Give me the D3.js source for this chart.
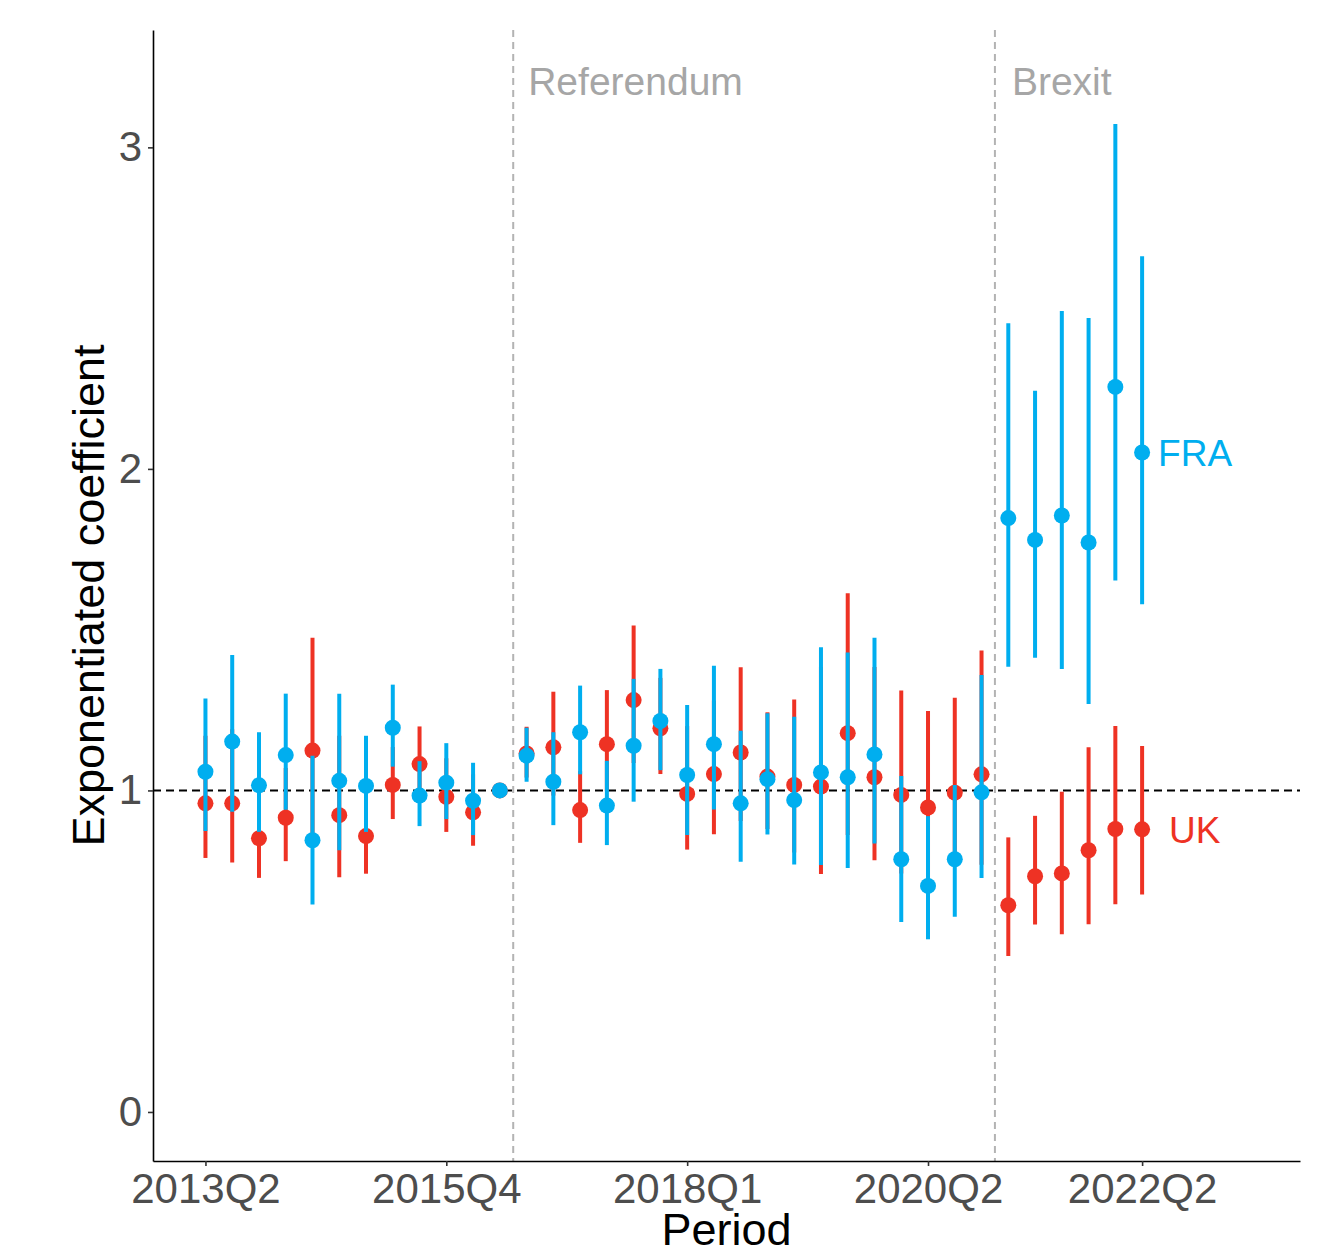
<!DOCTYPE html>
<html>
<head>
<meta charset="utf-8">
<script src="https://cdn.jsdelivr.net/npm/d3@7"></script>
<style>
  html, body { margin: 0; padding: 0; background: #fff; }
  svg { display: block; font-family: "Liberation Sans", Arial, sans-serif; }
</style>
</head>
<body>
<svg id="chart" width="1322" height="1251"></svg>
<script>
// ---------- data ----------
const periods = [
  "2013Q3","2013Q4","2014Q1","2014Q2","2014Q3","2014Q4","2015Q1","2015Q2","2015Q3","2015Q4",
  "2016Q1","2016Q2","2016Q3","2016Q4","2017Q1","2017Q2","2017Q3","2017Q4","2018Q1","2018Q2",
  "2018Q3","2018Q4","2019Q1","2019Q2","2019Q3","2019Q4","2020Q1","2020Q2","2020Q3","2020Q4",
  "2021Q1","2021Q2","2021Q3","2021Q4","2022Q1","2022Q2"
];
const tickPeriods = ["2013Q3","2015Q4","2018Q1","2020Q2","2022Q2"];
const tickLabels  = ["2013Q2","2015Q4","2018Q1","2020Q2","2022Q2"];
const yTicks = [0, 1, 2, 3];

const ukEst  = [0.960,0.960,0.851,0.915,1.124,0.923,0.858,1.017,1.082,0.980,0.932,1.000,1.115,1.134,0.939,1.144,1.281,1.193,0.989,1.051,1.118,1.043,1.017,1.012,1.178,1.041,0.986,0.947,0.993,1.050,0.643,0.733,0.742,0.814,0.880,0.879];
const ukLow  = [0.790,0.776,0.728,0.780,0.860,0.730,0.741,0.911,0.977,0.871,0.828,null,1.040,0.984,0.837,0.998,1.085,1.051,0.816,0.864,0.905,0.880,0.807,0.740,0.861,0.783,0.742,0.720,0.766,0.769,0.485,0.583,0.553,0.584,0.646,0.676];
const ukHigh = [1.170,1.190,0.995,1.070,1.475,1.170,0.994,1.135,1.199,1.100,1.050,null,1.198,1.307,1.060,1.312,1.513,1.350,1.200,1.280,1.383,1.243,1.283,1.384,1.613,1.384,1.311,1.247,1.288,1.435,0.854,0.921,0.996,1.134,1.200,1.138];

const frEst  = [1.058,1.152,1.016,1.110,0.845,1.030,1.014,1.195,0.984,1.024,0.968,1.000,1.108,1.027,1.181,0.953,1.139,1.216,1.048,1.144,0.960,1.035,0.970,1.056,1.041,1.112,0.786,0.703,0.786,0.994,1.847,1.779,1.855,1.771,2.255,2.051];
const frLow  = [0.874,0.934,0.871,0.940,0.645,0.814,0.871,1.074,0.889,0.911,0.861,null,1.027,0.892,1.050,0.830,0.965,1.063,0.861,0.941,0.778,0.863,0.770,0.768,0.759,0.835,0.591,0.537,0.607,0.728,1.385,1.413,1.378,1.269,1.653,1.579];
const frHigh = [1.286,1.421,1.181,1.301,1.108,1.301,1.170,1.329,1.091,1.147,1.086,null,1.195,1.181,1.326,1.092,1.347,1.378,1.266,1.388,1.186,1.240,1.229,1.445,1.429,1.475,1.045,0.920,1.017,1.359,2.453,2.243,2.491,2.469,3.073,2.661];

const seriesNames  = ["UK", "FRA"];
const seriesColors = ["#EE3224", "#00AEEF"];
const eventLabels  = ["Referendum", "Brexit"];
const eventAfter   = ["2016Q2", "2020Q4"];
const refValue = 1;

// ---------- layout ----------
const svg = d3.select("#chart");
const plotLeft = 153, plotRight = 1300, plotTop = 30, plotBottom = 1161;

const x = d3.scaleLinear().domain([-1.96, 40.9]).range([plotLeft, plotRight]);
const y = d3.scaleLinear().domain([-0.1525, 3.365]).range([plotBottom, plotTop]);
const xi = p => periods.indexOf(p);

// event vertical lines
eventAfter.forEach((p, k) => {
  const xv = x(xi(p) + 0.5);
  svg.append("line")
    .attr("x1", xv).attr("x2", xv).attr("y1", plotTop).attr("y2", plotBottom)
    .attr("stroke", "#b3b3b3").attr("stroke-width", 2).attr("stroke-dasharray", "7,5");
  svg.append("text")
    .attr("x", xv + 15 + (k === 1 ? 2 : 0)).attr("y", 95)
    .attr("font-size", 39).attr("fill", "#a6a6a6")
    .text(eventLabels[k]);
});

// reference horizontal line
svg.append("line")
  .attr("x1", plotLeft).attr("x2", plotRight).attr("y1", y(refValue)).attr("y2", y(refValue))
  .attr("stroke", "#000").attr("stroke-width", 2).attr("stroke-dasharray", "8,5");

// series
const series = [
  {name: seriesNames[0], color: seriesColors[0], est: ukEst, lo: ukLow, hi: ukHigh, dx: 27},
  {name: seriesNames[1], color: seriesColors[1], est: frEst, lo: frLow, hi: frHigh, dx: 16}
];

series.forEach(s => {
  const g = svg.append("g");
  const rows = periods.map((p, i) => ({i, est: s.est[i], lo: s.lo[i], hi: s.hi[i]}));
  g.selectAll("line.ci").data(rows.filter(d => d.lo != null))
    .join("line").attr("class", "ci")
    .attr("x1", d => x(d.i)).attr("x2", d => x(d.i))
    .attr("y1", d => y(d.lo)).attr("y2", d => y(d.hi))
    .attr("stroke", s.color).attr("stroke-width", 4);
  g.selectAll("circle").data(rows)
    .join("circle")
    .attr("cx", d => x(d.i)).attr("cy", d => y(d.est)).attr("r", 8)
    .attr("fill", s.color);
  const last = rows[rows.length - 1];
  g.append("text")
    .attr("x", x(last.i) + s.dx).attr("y", y(last.est))
    .attr("dy", "0.36em")
    .attr("font-size", 37).attr("fill", s.color)
    .text(s.name);
});

// axes
const xAxis = d3.axisBottom(x)
  .tickValues(tickPeriods.map(xi))
  .tickFormat((d, k) => tickLabels[k])
  .tickSize(5).tickSizeOuter(0).tickPadding(7);
const gx = svg.append("g").attr("transform", `translate(0,${plotBottom})`).call(xAxis);
gx.select(".domain").attr("stroke", "#000").attr("stroke-width", 1.6);
gx.selectAll(".tick line").attr("stroke", "#333").attr("stroke-width", 1.6);
gx.selectAll(".tick text").attr("font-size", 42).attr("fill", "#4d4d4d")
  .attr("font-family", "Liberation Sans, Arial, sans-serif");

const yAxis = d3.axisLeft(y).tickValues(yTicks).tickFormat(d3.format("d"))
  .tickSize(5).tickSizeOuter(0).tickPadding(6);
const gy = svg.append("g").attr("transform", `translate(${plotLeft},0)`).call(yAxis);
gy.select(".domain").attr("stroke", "#000").attr("stroke-width", 1.6);
gy.selectAll(".tick line").attr("stroke", "#333").attr("stroke-width", 1.6);
gy.selectAll(".tick text").attr("font-size", 42).attr("fill", "#4d4d4d")
  .attr("font-family", "Liberation Sans, Arial, sans-serif");

// axis titles
svg.append("text")
  .attr("x", (plotLeft + plotRight) / 2).attr("y", 1245)
  .attr("text-anchor", "middle").attr("font-size", 45).attr("fill", "#000")
  .text("Period");
svg.append("text")
  .attr("transform", `translate(104,${(plotTop + plotBottom) / 2}) rotate(-90)`)
  .attr("text-anchor", "middle").attr("font-size", 45).attr("fill", "#000")
  .text("Exponentiated coefficient");
</script>
</body>
</html>
